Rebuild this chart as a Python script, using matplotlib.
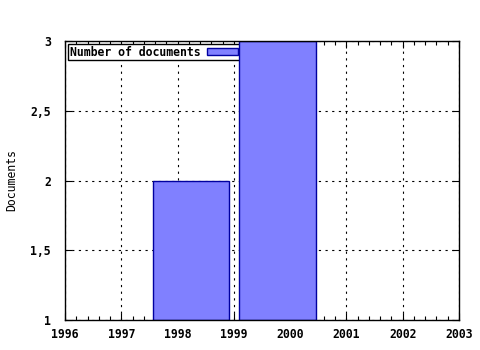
"""Documents per year, gnuplot-like box chart."""
import matplotlib

matplotlib.use("Agg")
import matplotlib.pyplot as plt  # noqa: E402
from matplotlib.ticker import MultipleLocator  # noqa: E402

# data
bar_centers = [1998.24, 1999.78]
bar_widths = [1.355, 1.36]
doc_counts = [2, 3]
year_ticks = [1996, 1997, 1998, 1999, 2000, 2001, 2002, 2003]
doc_ticks = [1, 1.5, 2, 2.5, 3]
doc_tick_labels = ["1", "1,5", "2", "2,5", "3"]

plt.rcParams["font.family"] = "DejaVu Sans Mono"
plt.rcParams["font.weight"] = "bold"

fig = plt.figure(figsize=(4.8, 3.5), dpi=100)
ax = fig.add_axes([65 / 480, 30 / 350, 394 / 480, 279 / 350])

ax.bar(bar_centers, [c - 1 for c in doc_counts], width=bar_widths, bottom=1,
       color="#8080ff", edgecolor="#0000a0", linewidth=1,
       label="Number of documents", zorder=2)

ax.set_xlim(1996, 2003)
ax.set_ylim(1, 3)
ax.set_xticks(year_ticks)
ax.set_xticklabels([str(y) for y in year_ticks])
ax.xaxis.set_minor_locator(MultipleLocator(0.2))
ax.set_yticks(doc_ticks)
ax.set_yticklabels(doc_tick_labels)
ax.tick_params(which="both", direction="in", top=True, right=True,
               labelsize=8.3, width=0.8)
ax.tick_params(which="major", length=5)
ax.tick_params(which="minor", length=3)
ax.tick_params(axis="x", pad=5.5)
ax.tick_params(axis="y", pad=10)
ax.grid(True, which="major", color="black", linestyle=(0, (2, 4)),
        linewidth=0.8, zorder=1)
ax.set_axisbelow(True)
for sp in ax.spines.values():
    sp.set_linewidth(1)
    sp.set_zorder(3)

ax.set_ylabel("Documents", fontsize=8.3, labelpad=9)

leg = ax.legend(loc="upper left", fontsize=8.3, frameon=True, fancybox=False,
                edgecolor="black", framealpha=1, markerfirst=False,
                handlelength=2.7, handleheight=0.6, borderpad=0.15,
                borderaxespad=0.25, handletextpad=0.6)
leg.get_frame().set_linewidth(1)
leg.set_zorder(1.5)

fig.savefig("out.png", dpi=100)
